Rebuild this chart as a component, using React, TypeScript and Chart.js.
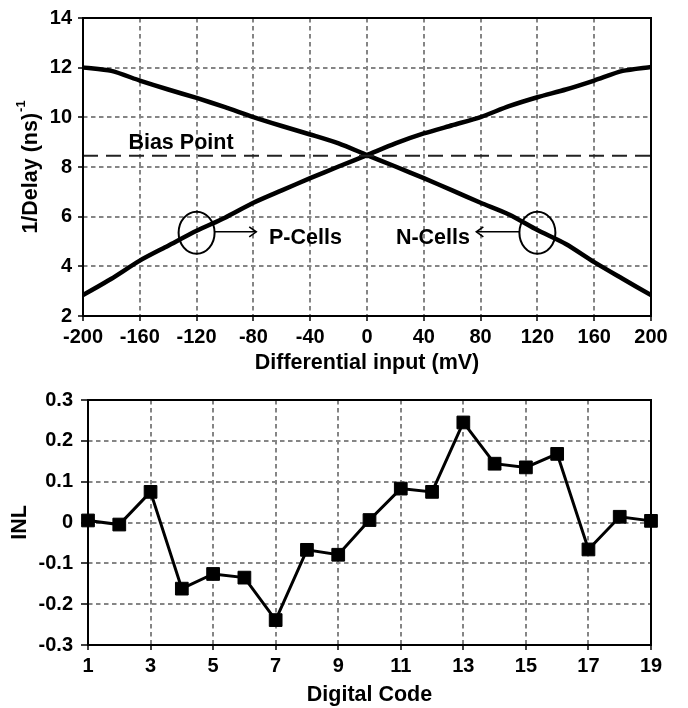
import React, { useEffect, useRef } from "react";
import { Chart, registerables } from "chart.js";
Chart.register(...registerables);

const FONT = "'Liberation Sans', Arial, Helvetica, sans-serif";

// ---------- Top chart data ----------
const inputMv = [-200, -180, -160, -140, -120, -100, -80, -60, -40, -20, 0, 20, 40, 60, 80, 100, 120, 140, 160, 180, 200];
const pCells = [2.84, 3.5, 4.23, 4.83, 5.43, 5.96, 6.56, 7.06, 7.55, 8.02, 8.48, 8.95, 9.35, 9.68, 10.01, 10.45, 10.81, 11.12, 11.48, 11.87, 12.03];
const nCells = [12.01, 11.87, 11.48, 11.12, 10.78, 10.41, 10.01, 9.65, 9.31, 8.95, 8.48, 8.02, 7.55, 7.06, 6.56, 6.09, 5.46, 4.9, 4.17, 3.5, 2.84];
const biasX = [-200, 200];
const biasLevel = [8.45, 8.45];
const inputAxis = [-200, 200, 40]; // min, max, step
const delayAxis = [2, 14, 2];

// annotation anchors (data coordinates)
const biasLabel = { text: "Bias Point", x: -131, y: 8.74 };
const pLabel = { text: "P-Cells", x: -69, y: 4.91, circleX: -120, circleY: 5.35, arrowY: 5.39, arrowEnd: -78 };
const nLabel = { text: "N-Cells", x: 72.5, y: 4.91, circleX: 120, circleY: 5.35, arrowY: 5.39, arrowEnd: 77 };

// ---------- Bottom chart data ----------
const digitalCodes = [1, 2, 3, 4, 5, 6, 7, 8, 9, 10, 11, 12, 13, 14, 15, 16, 17, 18, 19];
const inlValues = [0.005, -0.005, 0.075, -0.162, -0.126, -0.135, -0.239, -0.067, -0.079, 0.006, 0.083, 0.075, 0.245, 0.144, 0.135, 0.168, -0.066, 0.014, 0.004];
const codeAxis = [1, 19, 2];
const inlAxis = [-0.3, 0.3, 0.1];

const GRID = "#858585";
const GRID_DASH = [4.5, 3.5];
const tickFont = { family: FONT, size: 20, weight: "bold" as const };
const titleFont = { family: FONT, size: 21.5, weight: "bold" as const };

const framePlugin = {
  id: "frame",
  afterDatasetsDraw(chart: any) {
    const { ctx, chartArea: a } = chart;
    ctx.save();
    ctx.setLineDash([]);
    ctx.strokeStyle = "#000";
    ctx.lineWidth = 2;
    ctx.strokeRect(a.left, a.top, a.right - a.left, a.bottom - a.top);
    ctx.restore();
  },
};

function drawArrow(ctx: CanvasRenderingContext2D, x1: number, y: number, x2: number) {
  const d = Math.sign(x2 - x1);
  ctx.beginPath();
  ctx.moveTo(x1, y);
  ctx.lineTo(x2, y);
  ctx.stroke();
  ctx.beginPath();
  ctx.moveTo(x2 - d * 7, y - 5);
  ctx.lineTo(x2, y);
  ctx.lineTo(x2 - d * 7, y + 5);
  ctx.stroke();
}

const topAnnotations = {
  id: "topAnnotations",
  afterDraw(chart: any) {
    const { ctx, chartArea: a } = chart;
    const xs = chart.scales.x;
    const ys = chart.scales.y;
    ctx.save();
    ctx.fillStyle = "#000";
    ctx.strokeStyle = "#000";
    ctx.setLineDash([]);
    ctx.font = `bold 21.5px ${FONT}`;
    ctx.textBaseline = "alphabetic";

    // Bias point
    ctx.textAlign = "center";
    ctx.fillText(biasLabel.text, xs.getPixelForValue(biasLabel.x), ys.getPixelForValue(biasLabel.y));

    const rx = 18, ry = 21;
    // P-Cells
    {
      const cx = xs.getPixelForValue(pLabel.circleX);
      const cy = ys.getPixelForValue(pLabel.circleY);
      ctx.lineWidth = 2;
      ctx.beginPath();
      ctx.ellipse(cx, cy, rx, ry, 0, 0, Math.PI * 2);
      ctx.stroke();
      ctx.lineWidth = 1.6;
      drawArrow(ctx, cx + rx, ys.getPixelForValue(pLabel.arrowY), xs.getPixelForValue(pLabel.arrowEnd));
      ctx.textAlign = "left";
      ctx.fillText(pLabel.text, xs.getPixelForValue(pLabel.x), ys.getPixelForValue(pLabel.y));
    }
    // N-Cells
    {
      const cx = xs.getPixelForValue(nLabel.circleX);
      const cy = ys.getPixelForValue(nLabel.circleY);
      ctx.lineWidth = 2;
      ctx.beginPath();
      ctx.ellipse(cx, cy, rx, ry, 0, 0, Math.PI * 2);
      ctx.stroke();
      ctx.lineWidth = 1.6;
      drawArrow(ctx, cx - rx, ys.getPixelForValue(nLabel.arrowY), xs.getPixelForValue(nLabel.arrowEnd));
      ctx.textAlign = "right";
      ctx.fillText(nLabel.text, xs.getPixelForValue(nLabel.x), ys.getPixelForValue(nLabel.y));
    }

    // Y axis title with superscript
    ctx.translate(31, (a.top + a.bottom) / 2);
    ctx.rotate(-Math.PI / 2);
    const main = "1/Delay (ns)";
    const sup = "-1";
    ctx.font = `bold 21.5px ${FONT}`;
    const wm = ctx.measureText(main).width;
    ctx.font = `bold 13px ${FONT}`;
    const ws = ctx.measureText(sup).width;
    const start = -(wm + ws + 1) / 2;
    ctx.textAlign = "left";
    ctx.textBaseline = "middle";
    ctx.font = `bold 21.5px ${FONT}`;
    ctx.fillText(main, start, 0);
    ctx.font = `bold 13px ${FONT}`;
    ctx.fillText(sup, start + wm + 1, -10);
    ctx.restore();
  },
};

function fixWidth(w: number) {
  return (scale: any) => {
    scale.width = w;
  };
}
function fixHeight(h: number) {
  return (scale: any) => {
    scale.height = h;
  };
}

const gridOpts = (tickLength: number) => ({
  color: GRID,
  lineWidth: 2,
  tickLength,
  tickColor: "#000",
  tickWidth: 1.5,
});

export default function App() {
  const topRef = useRef<HTMLCanvasElement | null>(null);
  const botRef = useRef<HTMLCanvasElement | null>(null);

  useEffect(() => {
    const top = new Chart(topRef.current as HTMLCanvasElement, {
      type: "line",
      data: {
        datasets: [
          {
            label: "Bias Point",
            data: biasX.map((x, i) => ({ x, y: biasLevel[i] })),
            borderColor: "#222",
            borderWidth: 2,
            borderDash: [15, 8],
            pointRadius: 0,
            fill: false,
          },
          {
            label: "P-Cells",
            data: inputMv.map((x, i) => ({ x, y: pCells[i] })),
            borderColor: "#000",
            borderWidth: 4.5,
            pointRadius: 0,
            tension: 0.25,
            fill: false,
          },
          {
            label: "N-Cells",
            data: inputMv.map((x, i) => ({ x, y: nCells[i] })),
            borderColor: "#000",
            borderWidth: 4.5,
            pointRadius: 0,
            tension: 0.25,
            fill: false,
          },
        ],
      },
      options: {
        responsive: false,
        animation: false,
        events: [],
        layout: { padding: { top: 15, right: 37, left: 0, bottom: 0 } },
        plugins: { legend: { display: false }, tooltip: { enabled: false } },
        scales: {
          x: {
            type: "linear",
            min: inputAxis[0],
            max: inputAxis[1],
            afterFit: fixHeight(64),
            ticks: { stepSize: inputAxis[2], font: tickFont, color: "#000", padding: 4, maxRotation: 0, autoSkip: false },
            grid: gridOpts(5),
            border: { display: false, dash: GRID_DASH },
            title: { display: true, text: "Differential input (mV)", font: titleFont, color: "#000", padding: { top: 0, bottom: 4 } },
          },
          y: {
            type: "linear",
            min: delayAxis[0],
            max: delayAxis[1],
            afterFit: fixWidth(83),
            ticks: { stepSize: delayAxis[2], font: tickFont, color: "#000", padding: 6, autoSkip: false },
            grid: gridOpts(5),
            border: { display: false, dash: GRID_DASH },
          },
        },
      },
      plugins: [framePlugin, topAnnotations],
    });

    const bottom = new Chart(botRef.current as HTMLCanvasElement, {
      type: "line",
      data: {
        datasets: [
          {
            label: "INL",
            data: digitalCodes.map((x, i) => ({ x, y: inlValues[i] })),
            borderColor: "#000",
            borderWidth: 3,
            pointStyle: "rect",
            pointRadius: 9,
            pointBackgroundColor: "#000",
            pointBorderColor: "#000",
            pointBorderWidth: 1,
            fill: false,
            clip: false as any,
          },
        ],
      },
      options: {
        responsive: false,
        animation: false,
        events: [],
        layout: { padding: { top: 18, right: 37, left: 0, bottom: 0 } },
        plugins: { legend: { display: false }, tooltip: { enabled: false } },
        scales: {
          x: {
            type: "linear",
            min: codeAxis[0],
            max: codeAxis[1],
            afterFit: fixHeight(63),
            ticks: { stepSize: codeAxis[2], font: tickFont, color: "#000", padding: 4, maxRotation: 0, autoSkip: false },
            grid: gridOpts(5),
            border: { display: false, dash: GRID_DASH },
            title: { display: true, text: "Digital Code", font: titleFont, color: "#000", padding: { top: 0, bottom: 0 } },
          },
          y: {
            type: "linear",
            min: inlAxis[0],
            max: inlAxis[1],
            afterFit: fixWidth(88),
            ticks: {
              stepSize: inlAxis[2],
              font: tickFont,
              color: "#000",
              padding: 8,
              autoSkip: false,
              callback: (v: any) => {
                const r = Math.round(Number(v) * 10) / 10;
                return r === 0 ? "0" : r.toFixed(1);
              },
            },
            grid: gridOpts(7),
            border: { display: false, dash: GRID_DASH },
            title: { display: true, text: "INL", font: titleFont, color: "#000", padding: { top: 7, bottom: 0 } },
          },
        },
      },
      plugins: [framePlugin],
    });

    return () => {
      top.destroy();
      bottom.destroy();
    };
  }, []);

  return (
    <div style={{ position: "absolute", left: 0, top: 0, width: 688, height: 708, background: "#fff" }}>
      <canvas ref={topRef} width={688} height={380} style={{ position: "absolute", left: 0, top: 0 }} />
      <canvas ref={botRef} width={688} height={328} style={{ position: "absolute", left: 0, top: 380 }} />
    </div>
  );
}
